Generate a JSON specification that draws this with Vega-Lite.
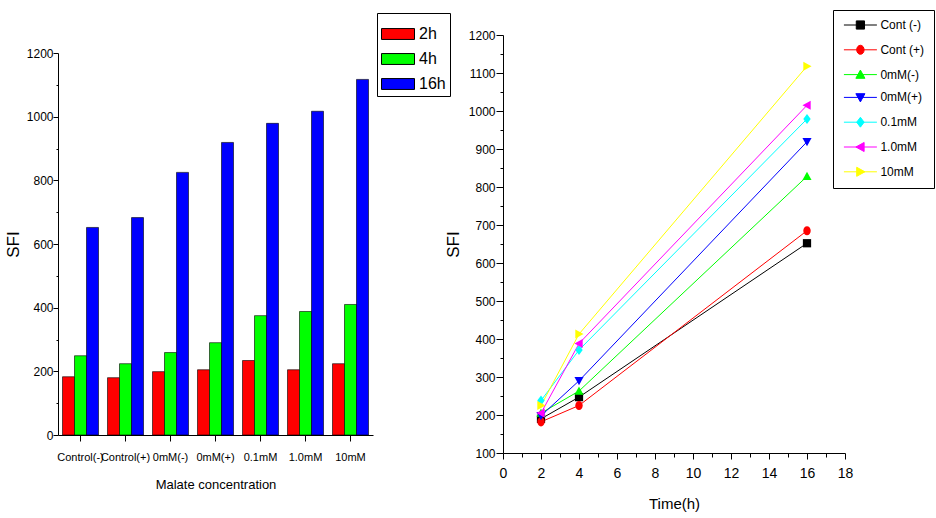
{
  "$schema": "https://vega.github.io/schema/vega-lite/v6.json",
  "background": "white",
  "padding": {"left": 4, "top": 9, "right": 4, "bottom": 5},
  "datasets": {
    "bars": [
      {"conc": "Control(-)", "time": "2h", "SFI": 183},
      {"conc": "Control(-)", "time": "4h", "SFI": 249},
      {"conc": "Control(-)", "time": "16h", "SFI": 652},
      {"conc": "Control(+)", "time": "2h", "SFI": 180},
      {"conc": "Control(+)", "time": "4h", "SFI": 224},
      {"conc": "Control(+)", "time": "16h", "SFI": 683},
      {"conc": "0mM(-)", "time": "2h", "SFI": 199},
      {"conc": "0mM(-)", "time": "4h", "SFI": 259},
      {"conc": "0mM(-)", "time": "16h", "SFI": 825},
      {"conc": "0mM(+)", "time": "2h", "SFI": 205},
      {"conc": "0mM(+)", "time": "4h", "SFI": 290},
      {"conc": "0mM(+)", "time": "16h", "SFI": 919},
      {"conc": "0.1mM", "time": "2h", "SFI": 234},
      {"conc": "0.1mM", "time": "4h", "SFI": 375},
      {"conc": "0.1mM", "time": "16h", "SFI": 979},
      {"conc": "1.0mM", "time": "2h", "SFI": 205},
      {"conc": "1.0mM", "time": "4h", "SFI": 388},
      {"conc": "1.0mM", "time": "16h", "SFI": 1017},
      {"conc": "10mM", "time": "2h", "SFI": 224},
      {"conc": "10mM", "time": "4h", "SFI": 410},
      {"conc": "10mM", "time": "16h", "SFI": 1117}
    ],
    "lines": [
      {"series": "Cont (-)", "time": 2, "SFI": 190},
      {"series": "Cont (-)", "time": 4, "SFI": 247},
      {"series": "Cont (-)", "time": 16, "SFI": 652},
      {"series": "Cont (+)", "time": 2, "SFI": 182},
      {"series": "Cont (+)", "time": 4, "SFI": 225},
      {"series": "Cont (+)", "time": 16, "SFI": 685},
      {"series": "0mM(-)", "time": 2, "SFI": 205},
      {"series": "0mM(-)", "time": 4, "SFI": 263},
      {"series": "0mM(-)", "time": 16, "SFI": 828},
      {"series": "0mM(+)", "time": 2, "SFI": 198},
      {"series": "0mM(+)", "time": 4, "SFI": 290},
      {"series": "0mM(+)", "time": 16, "SFI": 919},
      {"series": "0.1mM", "time": 2, "SFI": 238},
      {"series": "0.1mM", "time": 4, "SFI": 371},
      {"series": "0.1mM", "time": 16, "SFI": 979},
      {"series": "1.0mM", "time": 2, "SFI": 205},
      {"series": "1.0mM", "time": 4, "SFI": 388},
      {"series": "1.0mM", "time": 16, "SFI": 1015},
      {"series": "10mM", "time": 2, "SFI": 225},
      {"series": "10mM", "time": 4, "SFI": 413},
      {"series": "10mM", "time": 16, "SFI": 1118}
    ]
  },
  "hconcat": [
    {
      "width": 315,
      "height": 382,
      "data": {"name": "bars"},
      "mark": {"type": "bar", "stroke": "black", "strokeWidth": 0.6},
      "encoding": {
        "x": {
          "field": "conc", "type": "nominal",
          "sort": ["Control(-)", "Control(+)", "0mM(-)", "0mM(+)", "0.1mM", "1.0mM", "10mM"],
          "scale": {"paddingInner": 0.2, "paddingOuter": 0.1},
          "axis": {"title": "Malate concentration", "labelAngle": 0, "labelFontSize": 11, "labelPadding": 10, "tickSize": 6, "titleFontSize": 13, "titlePadding": 16, "labelOverlap": false}
        },
        "xOffset": {"field": "time", "type": "nominal", "sort": ["2h", "4h", "16h"]},
        "y": {
          "field": "SFI", "type": "quantitative",
          "scale": {"domain": [0, 1200], "nice": false},
          "axis": {
            "title": "SFI", "titleFontSize": 17, "titlePadding": 4, "format": "d",
            "values": [0, 100, 200, 300, 400, 500, 600, 700, 800, 900, 1000, 1100, 1200],
            "labelExpr": "datum.value % 200 === 0 ? datum.label : ''",
            "tickSize": {"condition": {"test": "datum.value % 200 === 0", "value": 5}, "value": 2},
            "labelFontSize": 12, "labelPadding": 0
          }
        },
        "color": {
          "field": "time", "type": "nominal",
          "scale": {"domain": ["2h", "4h", "16h"], "range": ["#FF0000", "#00FF00", "#0000FF"]},
          "legend": {
            "orient": "none", "legendX": 319, "legendY": -40, "title": null,
            "symbolType": "M-1,-0.33H1V0.33H-1Z", "symbolSize": 1089,
            "symbolStrokeColor": "black", "symbolStrokeWidth": 1, "symbolOpacity": 1,
            "labelFont": "Liberation Sans", "labelFontSize": 16, "labelOffset": 4, "labelColor": "black",
            "rowPadding": -1, "padding": 4, "strokeColor": "black", "fillColor": "white"
          }
        }
      }
    },
    {
      "width": 342,
      "height": 418,
      "data": {"name": "lines"},
      "encoding": {
        "x": {
          "field": "time", "type": "quantitative",
          "scale": {"domain": [0, 18], "nice": false},
          "axis": {
            "title": "Time(h)", "titleFontSize": 15, "titlePadding": 15.5,
            "values": [0, 1, 2, 3, 4, 5, 6, 7, 8, 9, 10, 11, 12, 13, 14, 15, 16, 17, 18],
            "labelExpr": "datum.value % 2 === 0 ? datum.label : ''",
            "tickSize": {"condition": {"test": "datum.value % 2 === 0", "value": 6}, "value": 4},
            "labelFontSize": 14, "labelPadding": 7.5, "labelFlush": false
          }
        },
        "y": {
          "field": "SFI", "type": "quantitative",
          "scale": {"domain": [100, 1200], "nice": false},
          "axis": {
            "title": "SFI", "titleFontSize": 17, "titlePadding": 6, "format": "d",
            "values": [100, 150, 200, 250, 300, 350, 400, 450, 500, 550, 600, 650, 700, 750, 800, 850, 900, 950, 1000, 1050, 1100, 1150, 1200],
            "labelExpr": "datum.value % 100 === 0 ? datum.label : ''",
            "tickSize": {"condition": {"test": "datum.value % 100 === 0", "value": 7}, "value": 3},
            "labelFontSize": 12, "labelPadding": 1
          }
        },
        "color": {
          "field": "series", "type": "nominal",
          "scale": {
            "domain": ["Cont (-)", "Cont (+)", "0mM(-)", "0mM(+)", "0.1mM", "1.0mM", "10mM"],
            "range": ["#000000", "#FF0000", "#00FF00", "#0000FF", "#00FFFF", "#FF00FF", "#FFFF00"]
          },
          "legend": {
            "orient": "none", "legendX": 330, "legendY": -25, "title": null,
            "symbolSize": 68, "symbolStrokeWidth": 1, "symbolOpacity": 1, "symbolOffset": 12.4,
            "labelFont": "Liberation Sans", "labelFontSize": 12, "labelOffset": 14, "labelColor": "black",
            "rowPadding": 10.8, "padding": 9, "strokeColor": "black", "fillColor": "white",
            "encode": {
              "symbols": {
                "update": {
                  "shape": {"signal": "['M-4,0H4M-1,-1H1V1H-1Z','M-4,0H4M-0.9,0A0.9,1.1 0 1,0 0.9,0A0.9,1.1 0 1,0 -0.9,0Z','M-4,0H4M0,-1.1L1.1,0.9H-1.1Z','M-4,0H4M0,1.1L1.1,-0.9H-1.1Z','M-4,0H4M0,-1.2L0.9,0L0,1.2L-0.9,0Z','M-4,0H4M-1.1,0L0.9,-1.1V1.1Z','M-4,0H4M1.1,0L-0.9,-1.1V1.1Z'][indexof(['Cont (-)','Cont (+)','0mM(-)','0mM(+)','0.1mM','1.0mM','10mM'], datum.value)]"},
                  "fill": {"signal": "['#000000','#FF0000','#00FF00','#0000FF','#00FFFF','#FF00FF','#FFFF00'][indexof(['Cont (-)','Cont (+)','0mM(-)','0mM(+)','0.1mM','1.0mM','10mM'], datum.value)]"},
                  "stroke": {"signal": "['#000000','#FF0000','#00FF00','#0000FF','#00FFFF','#FF00FF','#FFFF00'][indexof(['Cont (-)','Cont (+)','0mM(-)','0mM(+)','0.1mM','1.0mM','10mM'], datum.value)]"},
                  "strokeWidth": {"value": 1}
                }
              }
            }
          }
        }
      },
      "layer": [
        {"mark": {"type": "line", "strokeWidth": 1}},
        {
          "mark": {"type": "point", "filled": true, "size": 68, "opacity": 1},
          "encoding": {
            "shape": {
              "field": "series", "type": "nominal",
              "scale": {
                "domain": ["10mM", "1.0mM", "0.1mM", "0mM(+)", "0mM(-)", "Cont (+)", "Cont (-)"],
                "range": ["M1.1,0L-0.9,-1.1V1.1Z", "M-1.1,0L0.9,-1.1V1.1Z", "M0,-1.2L0.9,0L0,1.2L-0.9,0Z", "M0,1.1L1.1,-0.9H-1.1Z", "M0,-1.1L1.1,0.9H-1.1Z", "M-0.9,0A0.9,1.1 0 1,0 0.9,0A0.9,1.1 0 1,0 -0.9,0Z", "M-1,-1H1V1H-1Z"]
              },
              "legend": null
            }
          }
        }
      ]
    }
  ],
  "spacing": 130,
  "bounds": "flush",
  "center": true,
  "resolve": {"scale": {"color": "independent", "shape": "independent"}, "legend": {"color": "independent"}},
  "config": {
    "view": {"stroke": null},
    "axis": {
      "grid": false, "domainColor": "black", "tickColor": "black", "labelColor": "black", "titleColor": "black",
      "domainWidth": 1, "tickWidth": 1,
      "labelFont": "Liberation Sans", "titleFont": "Liberation Sans", "titleFontWeight": "normal"
    }
  }
}
